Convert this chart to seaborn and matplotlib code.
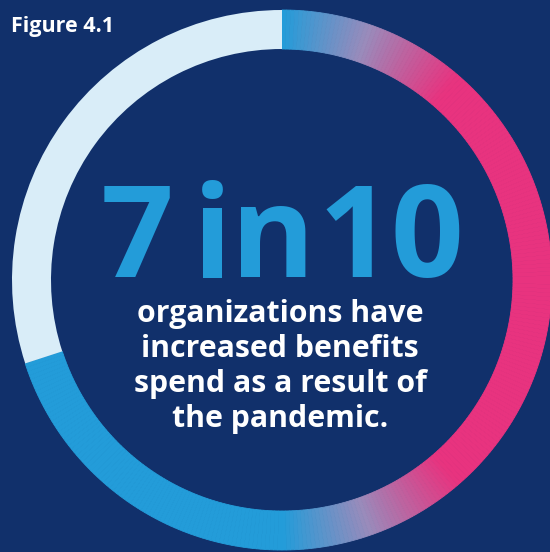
import numpy as np
import matplotlib
matplotlib.use("Agg")
import matplotlib.pyplot as plt
import seaborn as sns
from matplotlib.colors import LinearSegmentedColormap

# ---- data ----
share_values = [70, 30]
share_labels = ["increased benefits spend", "other"]
headline_parts = ["7", "in", "10"]
body_lines = ["organizations have", "increased benefits", "spend as a result of", "the pandemic."]
figure_label = "Figure 4.1"

# ---- style ----
NAVY = "#11306b"
BLUE = "#239cd9"
PINK = "#e8337f"
PALE = "#d9edf8"

sns.set_theme(style="white", rc={"figure.facecolor": NAVY, "axes.facecolor": NAVY})
plt.rcParams["font.family"] = ["Open Sans", "DejaVu Sans"]

W_PX, H_PX = 550, 552
fig = plt.figure(figsize=(W_PX / 100, H_PX / 100), dpi=100, facecolor=NAVY)
ax = fig.add_axes([0, 0, 1, 1])
ax.set_facecolor(NAVY)

cx, cy = 282, H_PX - 280
R, W = 270, 39

grad = LinearSegmentedColormap.from_list("g", [(0, BLUE), (0.5, "#9a8bbb"), (1, PINK)])
n_seg = 280
seg_vals = [share_values[0] / n_seg] * n_seg
total = sum(share_values)
theta = (np.arange(n_seg) + 0.5) / n_seg * share_values[0] / total * 2 * np.pi
x_mid = cx + (R - W / 2) * np.sin(theta)
t = np.clip((x_mid - 283) / (447 - 283), 0, 1)
seg_colors = [grad(v) for v in t]

wedges, _ = ax.pie(seg_vals + [share_values[1]], colors=seg_colors + [PALE],
                   startangle=90, counterclock=False, radius=R, center=(cx, cy),
                   wedgeprops=dict(width=W, linewidth=0), frame=False)
for w in wedges[:-1]:
    w.set_edgecolor(w.get_facecolor())
    w.set_linewidth(0.6)

ax.set_xlim(0, W_PX)
ax.set_ylim(0, H_PX)
ax.set_aspect("auto")
ax.axis("off")

# headline
big = dict(color=BLUE, fontsize=92, fontweight="bold", va="baseline", ha="center")
centers = [136.5, 254, 391.5]
for txt, xc in zip(headline_parts, centers):
    ax.text(xc, H_PX - 277, txt, **big)

baselines = [322, 357, 392, 427]
for line, b in zip(body_lines, baselines):
    ax.text(280, H_PX - b, line, color="white", fontsize=21.8, fontweight="bold",
            ha="center", va="baseline")

ax.text(11, H_PX - 32, figure_label, color="white", fontsize=15.5, fontweight="bold",
        ha="left", va="baseline")

fig.savefig("out.png", dpi=100, facecolor=NAVY)
